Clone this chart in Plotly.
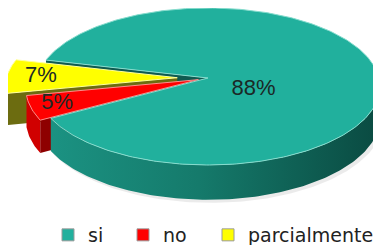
import numpy as np
import plotly.graph_objects as go

# ---- data ----
labels = ["si", "no", "parcialmente"]
values = [88, 5, 7]

# ---- style ----
top_colors = ["#21b09d", "#ff0000", "#ffff00"]
side_colors = ["#178474", "#d00000", "#7d7d0c"]
wall_colors = ["#0f5a50", "#8e0000", "#6c6c10"]
rim_colors = ["#86dccd", "#ff8c8c", "#ffff9c"]
legend_colors = ["#21b09d", "#ff0000", "#ffff00"]
pull = [0.0, 0.06, 0.18]
label_r = [0.27, 0.85, 0.80]
label_dy = [14, 0, 0]
legend_text_x = [88, 163, 248]   # left edge of each legend text (page pixels)
legend_y = 235

# page body has an 8px margin: the figure is sized to fill the rest of the window
PAD = 8
WIN_W, WIN_H = 381, 245
W, H = WIN_W - PAD, WIN_H - PAD
CX, CY, A, B, D, K = 208, 78, 171, 77.6, 31, 0.108
START = 193.7

total = sum(values)
spans = [v / total * 360 for v in values]
starts = [START + sum(spans[:i]) for i in range(len(values))]
ends = [s + sp for s, sp in zip(starts, spans)]
mids = [(s + e) / 2 for s, e in zip(starts, ends)]
offs = [(p * np.cos(np.radians(m)), p * np.sin(np.radians(m))) for p, m in zip(pull, mids)]


def proj(X, Y, dz=0.0):
    X = np.asarray(X, dtype=float)
    Y = np.asarray(Y, dtype=float)
    s = 1.0 / (1.0 - K * Y)
    return CX + A * X * s, CY + (B * Y + dz) * s


def pt(theta, off, dz=0.0):
    t = np.radians(np.asarray(theta, dtype=float))
    return proj(np.cos(t) + off[0], np.sin(t) + off[1], dz)


def arc(t0, t1, off, dz=0.0):
    n = max(2, int(abs(t1 - t0) / 1.0) + 2)
    ts = np.linspace(t0, t1, n)
    x, y = pt(ts, off, dz)
    return list(x), list(y)


fig = go.Figure()


def poly(xs, ys, color, line_color=None, lw=0, gradient=None):
    xs = [float(v) for v in xs]
    ys = [float(v) for v in ys]
    kw = dict(x=xs + [xs[0]], y=ys + [ys[0]], mode="lines", fill="toself",
              fillcolor=color, hoverinfo="skip", showlegend=False,
              line=dict(width=lw, color=line_color or color))
    if gradient is not None:
        kw["fillgradient"] = gradient
    fig.add_trace(go.Scatter(**kw))


def front_parts(t0, t1):
    parts = []
    for k in range(-1, 3):
        a, b = max(t0, 360 * k), min(t1, 360 * k + 180)
        if b > a:
            parts.append((a, b))
    return parts


def draw_side(i, gradient=None):
    for a, b in front_parts(starts[i], ends[i]):
        xt, yt = arc(a, b, offs[i])
        xb, yb = arc(b, a, offs[i], D)
        poly(xt + xb, yt + yb, side_colors[i], gradient=gradient)


def draw_walls(i):
    for edge, sign in ((starts[i], -1), (ends[i], 1)):
        if (np.cos(np.radians(edge)) * sign) <= 0:
            continue
        ox, oy = proj(offs[i][0], offs[i][1])
        ox2, oy2 = proj(offs[i][0], offs[i][1], D)
        ex, ey = pt(edge, offs[i])
        ex2, ey2 = pt(edge, offs[i], D)
        poly([ox, ex, ex2, ox2], [oy, ey, ey2, oy2], wall_colors[i])


def draw_top(i):
    ox, oy = proj(offs[i][0], offs[i][1])
    xa, ya = arc(starts[i], ends[i], offs[i])
    poly([ox] + xa, [oy] + ya, top_colors[i], rim_colors[i], 1)


# soft shadow under the front rim
sx, sy = arc(0, 180, (0.015, 0.03), D)
sx2, sy2 = arc(180, 0, (0, 0), D - 4)
poly(sx + sx2, sy + sy2, "rgba(0,0,0,0.08)")

base = [i for i in range(len(values)) if pull[i] == 0]
pulled = sorted([i for i in range(len(values)) if pull[i] > 0],
                key=lambda i: np.sin(np.radians(mids[i])))

for i in base:
    draw_walls(i)
for i in pulled:
    draw_side(i)
    draw_walls(i)
    draw_top(i)
for i in base:
    grad = dict(type="horizontal",
                colorscale=[[0, "#1b9282"], [0.45, "#157a6b"], [1, "#0a4a41"]])
    draw_side(i, gradient=grad)
    draw_top(i)

# labels
lx, ly, lt = [], [], []
for i in range(len(values)):
    t = np.radians(mids[i])
    x, y = proj(offs[i][0] + label_r[i] * np.cos(t), offs[i][1] + label_r[i] * np.sin(t))
    lx.append(float(x))
    ly.append(float(y) + label_dy[i])
    lt.append(f"{round(values[i] / total * 100)}%")
fig.add_trace(go.Scatter(x=lx, y=ly, text=lt, mode="text", hoverinfo="skip", showlegend=False,
                         textfont=dict(family="Liberation Sans, Arial", size=22, color="#1b2826")))

# legend entries, each in its own legend box
legend_names = ["legend", "legend2", "legend3"]
legend_layout = {}
for name, c, lg, tx in zip(labels, legend_colors, legend_names, legend_text_x):
    fig.add_trace(go.Scatter(x=[None], y=[None], mode="markers", name=name, legend=lg,
                             marker=dict(symbol="square", size=12, color=c,
                                         line=dict(color="#9a9a9a", width=1))))
    legend_layout[lg] = dict(
        x=(tx - PAD - 40) / W, xanchor="left",
        y=1 - (legend_y - PAD) / H, yanchor="middle",
        font=dict(family="DejaVu Sans", size=19, color="#222222"),
        itemwidth=30, bgcolor="rgba(0,0,0,0)", borderwidth=0,
    )

fig.update_layout(
    width=W, height=H, margin=dict(l=0, r=0, t=0, b=0, autoexpand=False),
    paper_bgcolor="white", plot_bgcolor="white",
    xaxis=dict(range=[PAD, WIN_W], visible=False, fixedrange=True),
    yaxis=dict(range=[WIN_H, PAD], visible=False, fixedrange=True),
    showlegend=True,
    **legend_layout,
)

fig.write_html("out.html")
